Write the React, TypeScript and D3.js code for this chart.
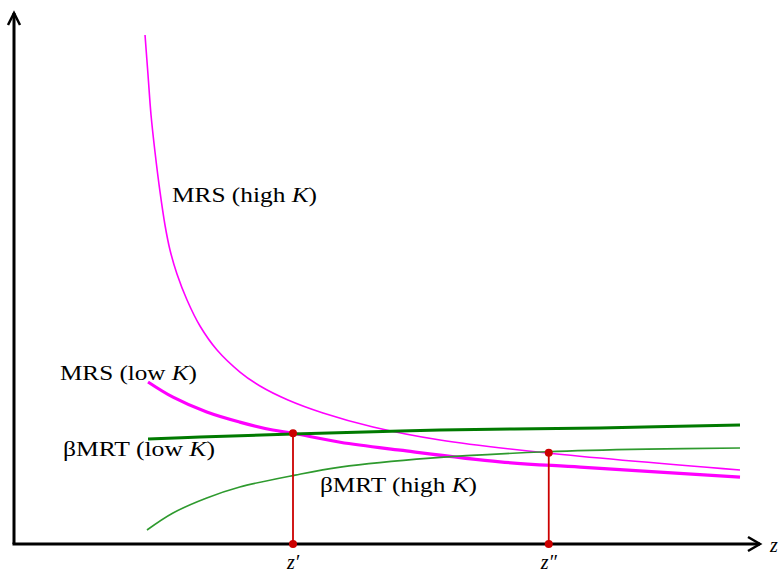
import React from "react";
import * as d3 from "d3";

// MRS (high K) – thin magenta
const mrsHighX = [17.47, 17.87, 18.27, 18.8, 19.47, 20.13, 20.8, 21.73, 23.07, 24.8, 27.07, 30.13, 32.8, 36.53, 41.2, 47.87, 56.8, 71.07, 96.8];
const mrsHighY = [96.04, 88.49, 80.94, 73.96, 66.42, 60.19, 55.47, 50.94, 46.04, 41.13, 36.6, 32.45, 29.81, 27.17, 24.72, 22.08, 19.62, 17.17, 13.96];
// MRS (low K) – thick magenta
const mrsLowX = [17.87, 21.2, 25.7, 30.1, 34.5, 37.2, 43.5, 51.5, 64.8, 75.5, 96.8];
const mrsLowY = [30.57, 27.7, 24.9, 23.0, 21.5, 20.9, 19.2, 17.7, 15.5, 14.5, 12.6];
// βMRT (low K) – thick green
const mrtLowX = [17.87, 24.8, 37.2, 56.8, 78.1, 96.8];
const mrtLowY = [19.8, 20.2, 20.75, 21.5, 21.9, 22.45];
// βMRT (high K) – thin green
const mrtHighX = [17.73, 21.2, 25.7, 30.1, 37.5, 43.5, 55.5, 71.1, 84.4, 96.8];
const mrtHighY = [2.64, 5.85, 8.68, 10.75, 13.0, 14.5, 16.2, 17.4, 17.9, 18.1];
// equilibria
const eqLabels = ["z\u2032", "z\u2033"];
const eqX = [37.2, 71.3];
const eqY = [20.9, 17.2];

const W = 782, H = 572;
const x = d3.scaleLinear().domain([0, 100]).range([14, 764]);
const y = d3.scaleLinear().domain([0, 100]).range([544, 14]);

const line = d3.line<[number, number]>()
  .x((d) => x(d[0]))
  .y((d) => y(d[1]))
  .curve(d3.curveCatmullRom.alpha(0.5));

const zip = (a: number[], b: number[]) => a.map((v, i) => [v, b[i]] as [number, number]);

const FONT = "'Liberation Serif', 'Times New Roman', serif";

function Label({ px, py, pre, post, len }: { px: number; py: number; pre: string; post: string; len: number }) {
  return (
    <text x={px} y={py} fontFamily={FONT} fontSize={20} fill="#000" textLength={len} lengthAdjust="spacingAndGlyphs">
      {pre}
      <tspan fontStyle="italic">K</tspan>
      {post}
    </text>
  );
}

export default function App() {
  return (
    <svg width={W} height={H} style={{ position: "absolute", left: 0, top: 0, background: "#fff" }}>
      {/* curves */}
      <path d={line(zip(mrsHighX, mrsHighY))!} fill="none" stroke="#ff00ff" strokeWidth={1.6} />
      <path d={line(zip(mrsLowX, mrsLowY))!} fill="none" stroke="#ff00ff" strokeWidth={3.2} />
      <path d={line(zip(mrtLowX, mrtLowY))!} fill="none" stroke="#007a00" strokeWidth={3} />
      <path d={line(zip(mrtHighX, mrtHighY))!} fill="none" stroke="#2e9a2e" strokeWidth={1.6} />

      {/* axes */}
      <line x1={x(0)} y1={y(0)} x2={x(0)} y2={13} stroke="#000" strokeWidth={3} />
      <polyline points={`8,25 ${x(0)},13 20,25`} fill="none" stroke="#000" strokeWidth={2.5} />
      <line x1={x(0) - 1.5} y1={y(0)} x2={760} y2={y(0)} stroke="#000" strokeWidth={3} />
      <polyline points={`748,537 760,${y(0)} 748,551`} fill="none" stroke="#000" strokeWidth={2.5} />
      <text x={770} y={552} fontFamily={FONT} fontSize={20} fontStyle="italic">z</text>

      {/* equilibria */}
      {eqX.map((v, i) => (
        <g key={i}>
          <line x1={x(v)} y1={y(eqY[i])} x2={x(v)} y2={y(0)} stroke="#cc0000" strokeWidth={1.8} />
          <circle cx={x(v)} cy={y(eqY[i])} r={4} fill="#cc0000" />
          <circle cx={x(v)} cy={y(0)} r={4} fill="#cc0000" />
          <text x={x(v)} y={569} fontFamily={FONT} fontSize={20} fontStyle="italic" textAnchor="middle">{eqLabels[i]}</text>
        </g>
      ))}

      {/* labels */}
      <Label px={172} py={202} pre="MRS (high " post=")" len={145} />
      <Label px={60} py={380} pre="MRS (low " post=")" len={137} />
      <Label px={63} py={456} pre={"\u03b2MRT (low "} post=")" len={152} />
      <Label px={320} py={492} pre={"\u03b2MRT (high "} post=")" len={157} />
    </svg>
  );
}
